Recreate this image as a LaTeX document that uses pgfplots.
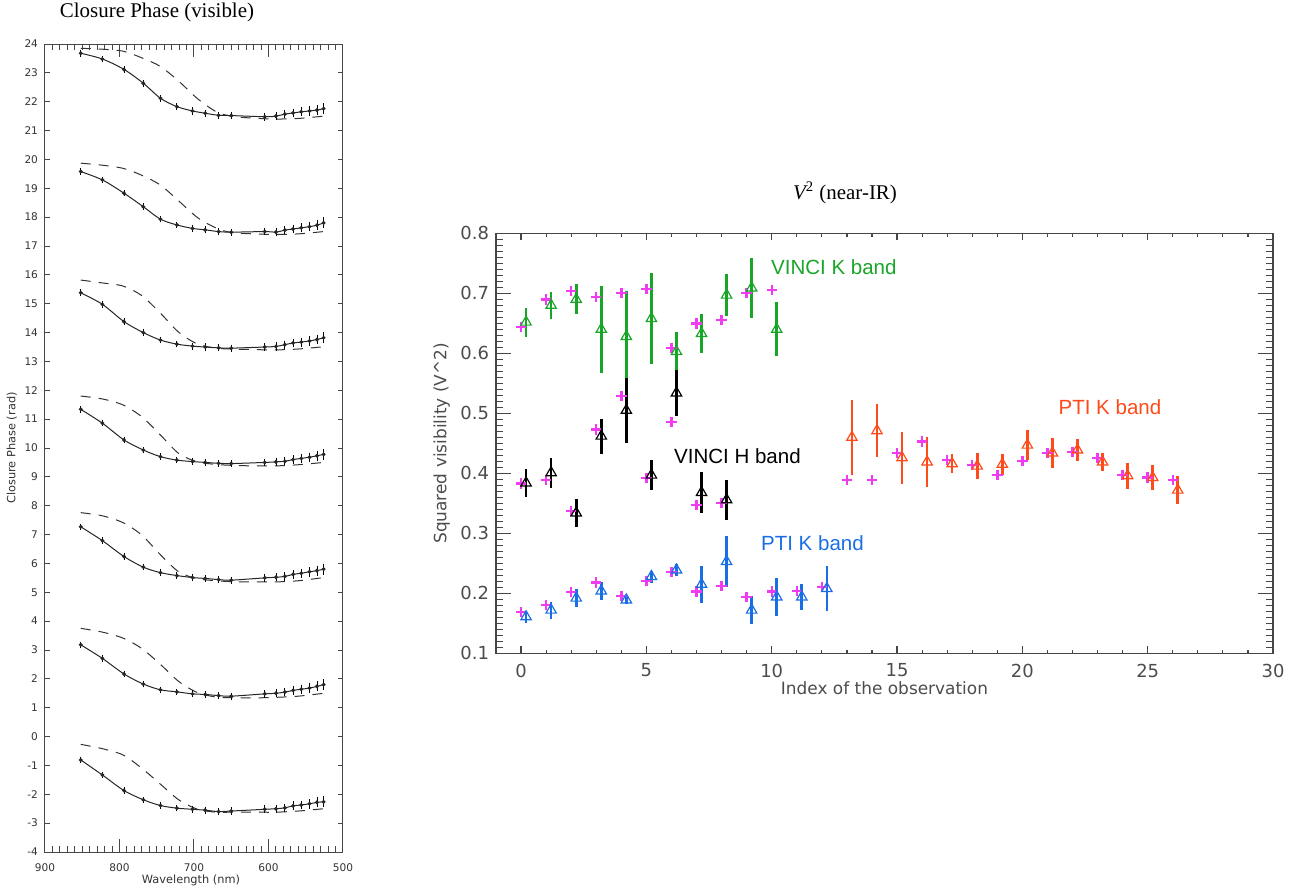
\documentclass[border=0pt]{standalone}
\usepackage{fontspec}
\setmainfont{Liberation Serif}
\newfontfamily\idlfont{DejaVu Sans}
\newfontfamily\labfont{Liberation Sans}
\usepackage{pgfplots}
\usepackage{pgfplotstable}
\pgfplotsset{compat=1.18}
\definecolor{vmag}{RGB}{240,60,240}
\definecolor{vgreen}{RGB}{25,165,40}
\definecolor{vorange}{RGB}{255,75,25}
\definecolor{vblue}{RGB}{25,110,230}
\definecolor{axgray}{RGB}{70,70,70}

% closure phase: measured points (solid) and model (dashed), 7 triangles
\pgfplotstableread{
x   c1    c2    c3    c4    c5   c6   c7    e
852 23.68 19.58 15.38 11.34 7.27 3.18 -0.81 0.03
823 23.48 19.29 14.98 10.86 6.79 2.71 -1.33 0.03
794 23.12 18.83 14.38 10.28 6.24 2.17 -1.87 0.03
768 22.64 18.36 14.00 9.93  5.87 1.82 -2.19 0.03
745 22.12 17.93 13.74 9.70  5.68 1.62 -2.39 0.03
723 21.83 17.73 13.60 9.58  5.58 1.55 -2.48 0.03
702 21.68 17.61 13.53 9.53  5.51 1.48 -2.52 0.04
685 21.60 17.56 13.50 9.50  5.48 1.46 -2.55 0.04
667 21.53 17.50 13.47 9.47  5.44 1.42 -2.60 0.04
650 21.52 17.48 13.46 9.46  5.42 1.40 -2.58 0.04
605 21.48 17.50 13.50 9.50  5.50 1.48 -2.52 0.05
590 21.50 17.48 13.52 9.52  5.52 1.50 -2.50 0.06
578 21.57 17.55 13.58 9.54  5.55 1.54 -2.47 0.06
567 21.61 17.59 13.64 9.60  5.62 1.60 -2.40 0.07
556 21.65 17.63 13.67 9.64  5.66 1.64 -2.37 0.07
545 21.68 17.67 13.71 9.68  5.71 1.68 -2.33 0.08
535 21.71 17.72 13.76 9.73  5.75 1.74 -2.28 0.09
526 21.76 17.80 13.82 9.78  5.80 1.80 -2.26 0.11
}\cpdata

\pgfplotstableread{
x   d1    d2    d3    d4    d5   d6   d7
852 23.85 19.87 15.82 11.80 7.76 3.75 -0.27
823 23.82 19.80 15.72 11.70 7.65 3.62 -0.42
795 23.75 19.69 15.61 11.49 7.41 3.41 -0.64
770 23.52 19.45 15.28 11.08 6.98 3.05 -1.10
745 23.22 19.11 14.67 10.45 6.30 2.50 -1.65
720 22.70 18.55 14.00 9.80  5.70 1.90 -2.20
695 22.10 17.98 13.60 9.52  5.47 1.52 -2.52
670 21.65 17.62 13.46 9.43  5.40 1.37 -2.62
650 21.50 17.47 13.43 9.40  5.37 1.35 -2.62
620 21.43 17.42 13.41 9.38  5.36 1.34 -2.62
590 21.40 17.40 13.40 9.38  5.36 1.36 -2.62
560 21.42 17.42 13.43 9.42  5.40 1.40 -2.58
526 21.50 17.50 13.51 9.50  5.51 1.50 -2.50
}\cpmodel

% V^2: models (magenta) and observations
\pgfplotstableread{
x y
0 0.644
1 0.690
2 0.704
3 0.694
4 0.701
5 0.707
6 0.609
7 0.650
8 0.656
9 0.701
10 0.706
}\vkmod
\pgfplotstableread{
x y e
0.2 0.652 0.024
1.2 0.680 0.022
2.2 0.690 0.025
3.2 0.640 0.073
4.2 0.628 0.076
5.2 0.658 0.076
6.2 0.603 0.032
7.2 0.633 0.032
8.2 0.697 0.035
9.2 0.709 0.050
10.2 0.640 0.045
}\vkdat
\pgfplotstableread{
x y
0 0.383
1 0.389
2 0.337
3 0.473
4 0.529
5 0.392
6 0.486
7 0.347
8 0.351
}\vhmod
\pgfplotstableread{
x y e
0.2 0.384 0.024
1.2 0.401 0.025
2.2 0.334 0.024
3.2 0.462 0.029
4.2 0.505 0.054
5.2 0.397 0.025
6.2 0.534 0.038
7.2 0.368 0.034
8.2 0.356 0.033
}\vhdat
\pgfplotstableread{
x y
0 0.169
1 0.181
2 0.202
3 0.218
4 0.196
5 0.221
6 0.236
7 0.203
8 0.212
9 0.194
10 0.203
11 0.204
12 0.211
}\pbmod
\pgfplotstableread{
x y e
0.2 0.161 0.010
1.2 0.172 0.014
2.2 0.192 0.015
3.2 0.204 0.015
4.2 0.189 0.007
5.2 0.228 0.010
6.2 0.239 0.010
7.2 0.215 0.031
8.2 0.253 0.043
9.2 0.172 0.023
10.2 0.194 0.031
11.2 0.194 0.021
12.2 0.208 0.037
}\pbdat
\pgfplotstableread{
x y
13 0.389
14 0.389
15 0.434
16 0.453
17 0.422
18 0.414
19 0.397
20 0.421
21 0.434
22 0.436
23 0.426
24 0.397
25 0.393
26 0.389
}\pomod
\pgfplotstableread{
x y e
13.2 0.460 0.062
14.2 0.471 0.044
15.2 0.426 0.043
16.2 0.419 0.042
17.2 0.416 0.016
18.2 0.412 0.022
19.2 0.415 0.017
20.2 0.447 0.025
21.2 0.434 0.025
22.2 0.439 0.018
23.2 0.419 0.015
24.2 0.396 0.022
25.2 0.393 0.021
26.2 0.372 0.023
}\podat

\pgfplotsset{
  model/.style={only marks, mark=+, mark size=2.6bp, color=vmag, line width=1.2bp},
  obs/.style={only marks, color=#1, mark=triangle, mark size=3bp,
    mark options={line width=0.6bp, fill=none},
    error bars/.cd, y dir=both, y explicit, error mark=none,
    error bar style={line width=1.3bp, color=#1}},
  cp/.style={black!85, line width=0.5bp, smooth, mark=*, mark size=0.7bp,
    error bars/.cd, y dir=both, y explicit,
    error mark options={mark size=1.2bp, line width=0.4bp, black}},
  cpm/.style={black!80, line width=0.5bp, smooth, dash pattern=on 5bp off 4bp, no marks},
}

\begin{document}
\begin{tikzpicture}
\useasboundingbox (0,0) rectangle (649.5bp,-444bp);

\begin{axis}[
  at={(22.5bp,-22bp)}, anchor=north west, scale only axis,
  width=149bp, height=404bp,
  x dir=reverse, xmin=500, xmax=900, ymin=-4, ymax=24,
  xtick={500,600,700,800,900}, minor x tick num=9,
  ytick={-4,-3,...,24},
  tick align=inside, tick pos=both,
  xticklabel pos=lower, yticklabel pos=left,
  axis line style={axgray, line width=0.5bp},
  every tick/.style={axgray, line width=0.5bp},
  major tick length=6.5bp, minor tick length=3bp,
  ytick style={/pgfplots/major tick length=2.6bp},
  /pgf/number format/assume math mode=true,
  tick label style={font=\idlfont\fontsize{5.3}{6}\selectfont, text=black!80},
  xticklabel style={yshift=-2.2bp},
  xlabel={Wavelength (nm)}, ylabel={Closure Phase (rad)},
  label style={font=\idlfont\fontsize{5.7}{7}\selectfont, text=black!80},
  xlabel style={at={(axis description cs:0.49,-0.035)}, anchor=center},
  ylabel style={at={(axis description cs:-0.111,0.5)}, anchor=center},
]
\addplot[cpm] table[x=x, y=d1] {\cpmodel};
\addplot[cpm] table[x=x, y=d2] {\cpmodel};
\addplot[cpm] table[x=x, y=d3] {\cpmodel};
\addplot[cpm] table[x=x, y=d4] {\cpmodel};
\addplot[cpm] table[x=x, y=d5] {\cpmodel};
\addplot[cpm] table[x=x, y=d6] {\cpmodel};
\addplot[cpm] table[x=x, y=d7] {\cpmodel};
\addplot[cp] table[x=x, y=c1, y error=e] {\cpdata};
\addplot[cp] table[x=x, y=c2, y error=e] {\cpdata};
\addplot[cp] table[x=x, y=c3, y error=e] {\cpdata};
\addplot[cp] table[x=x, y=c4, y error=e] {\cpdata};
\addplot[cp] table[x=x, y=c5, y error=e] {\cpdata};
\addplot[cp] table[x=x, y=c6, y error=e] {\cpdata};
\addplot[cp] table[x=x, y=c7, y error=e] {\cpdata};
\end{axis}

\begin{axis}[
  at={(248bp,-116.67bp)}, anchor=north west, scale only axis,
  width=388.5bp, height=210bp,
  xmin=-1, xmax=30, ymin=0.1, ymax=0.8,
  xtick={0,5,...,30}, minor x tick num=4,
  ytick={0.1,0.2,0.3,0.4,0.5,0.6,0.7,0.8}, minor y tick num=9,
  tick align=inside, tick pos=both,
  xticklabel pos=lower, yticklabel pos=left,
  axis line style={axgray, line width=0.6bp},
  every tick/.style={axgray, line width=0.6bp},
  major tick length=7.5bp, minor tick length=3.5bp,
  xtick style={/pgfplots/major tick length=3.5bp, /pgfplots/minor tick length=1.7bp},
  /pgf/number format/assume math mode=true,
  tick label style={font=\idlfont\fontsize{9}{10}\selectfont, text=black!70},
  yticklabel style={/pgf/number format/.cd, fixed, fixed zerofill, precision=1},
  xticklabel style={yshift=-1.7bp},
  xlabel={Index of the observation}, ylabel={Squared visibility (V\textasciicircum 2)},
  label style={font=\idlfont\fontsize{8.5}{10}\selectfont, text=black!70},
  xlabel style={at={(axis description cs:0.5,-0.083)}, anchor=center},
  ylabel style={at={(axis description cs:-0.07,0.5)}, anchor=center},
]
\addplot[model] table[x=x, y=y] {\vkmod};
\addplot[model] table[x=x, y=y] {\vhmod};
\addplot[model] table[x=x, y=y] {\pbmod};
\addplot[model] table[x=x, y=y] {\pomod};
\addplot[obs=vgreen] table[x=x, y=y, y error=e] {\vkdat};
\addplot[obs=black] table[x=x, y=y, y error=e] {\vhdat};
\addplot[obs=vblue] table[x=x, y=y, y error=e] {\pbdat};
\addplot[obs=vorange] table[x=x, y=y, y error=e] {\podat};
\node[anchor=west, inner sep=0, font=\labfont\fontsize{10.3}{12}\selectfont, text=vgreen] at (axis cs:9.96,0.743) {VINCI K band};
\node[anchor=west, inner sep=0, font=\labfont\fontsize{10.3}{12}\selectfont, text=black] at (axis cs:6.09,0.428) {VINCI H band};
\node[anchor=west, inner sep=0, font=\labfont\fontsize{10.3}{12}\selectfont, text=vblue] at (axis cs:9.56,0.283) {PTI K band};
\node[anchor=west, inner sep=0, font=\labfont\fontsize{10.3}{12}\selectfont, text=vorange] at (axis cs:21.43,0.511) {PTI K band};
\end{axis}

\node[font=\fontsize{10.5}{12}\selectfont] at (78.5bp,-6bp) {Closure Phase (visible)};
\node[font=\fontsize{10.5}{12}\selectfont] at (422.5bp,-96.5bp) {{\itshape V}\textsuperscript{2} (near-IR)};
\end{tikzpicture}
\end{document}
